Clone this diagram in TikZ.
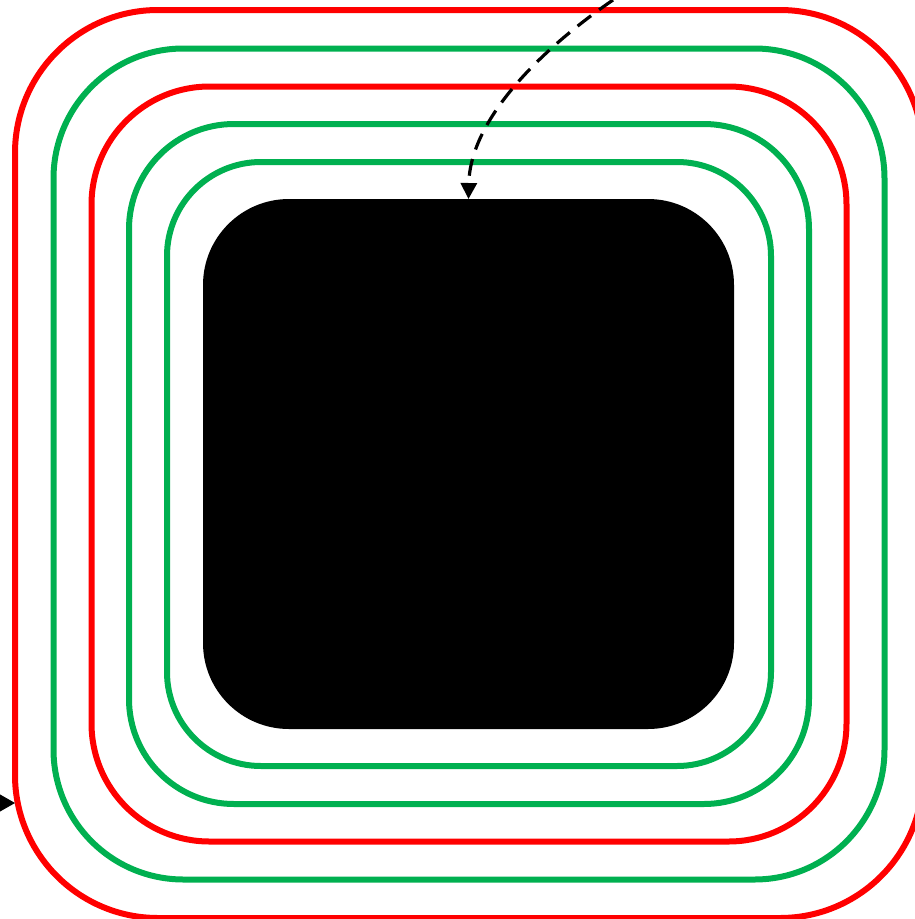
\documentclass[tikz,border=0pt]{standalone}
\usetikzlibrary{arrows.meta}
\definecolor{ringred}{RGB}{255,0,0}
\definecolor{ringgreen}{RGB}{0,176,80}
\begin{document}
\begin{tikzpicture}[x=1pt,y=-1pt,
  ring/.style n args={3}{draw=#1, line width=6pt, rectangle, inner sep=0pt, outer sep=0pt,
     minimum width=#2, minimum height=#2, rounded corners=#3},
  core/.style={fill=black, rectangle, inner sep=0pt, outer sep=0pt,
     minimum width=531pt, minimum height=530pt, rounded corners=86pt},
  dasharrow/.style={line width=3.2pt, dash pattern=on 17pt off 10pt,
     -{Triangle[length=16pt,width=16pt]}},
  solidarrow/.style={line width=1pt, -{Triangle[length=16pt,width=18pt]}}]
\useasboundingbox (0,0) rectangle (915,919);
\node[ring={ringred}{908pt}{143pt}] (r5) at (469,464) {};
\node[ring={ringgreen}{831pt}{130pt}] (r4) at (469,464) {};
\node[ring={ringred}{755pt}{118pt}] (r3) at (469,464) {};
\node[ring={ringgreen}{680pt}{105pt}] (r2) at (469,464) {};
\node[ring={ringgreen}{604pt}{94pt}] (r1) at (469,464) {};
\node[core] (blk) at (468.5,464) {};
\coordinate (ds) at (613,0);
\coordinate (ls) at (0,803);
\draw[dasharrow] (ds) .. controls (540,50) and (470,120) .. (blk.north);
\draw[solidarrow] (ls) -- (ls -| r5.west);
\end{tikzpicture}
\end{document}
